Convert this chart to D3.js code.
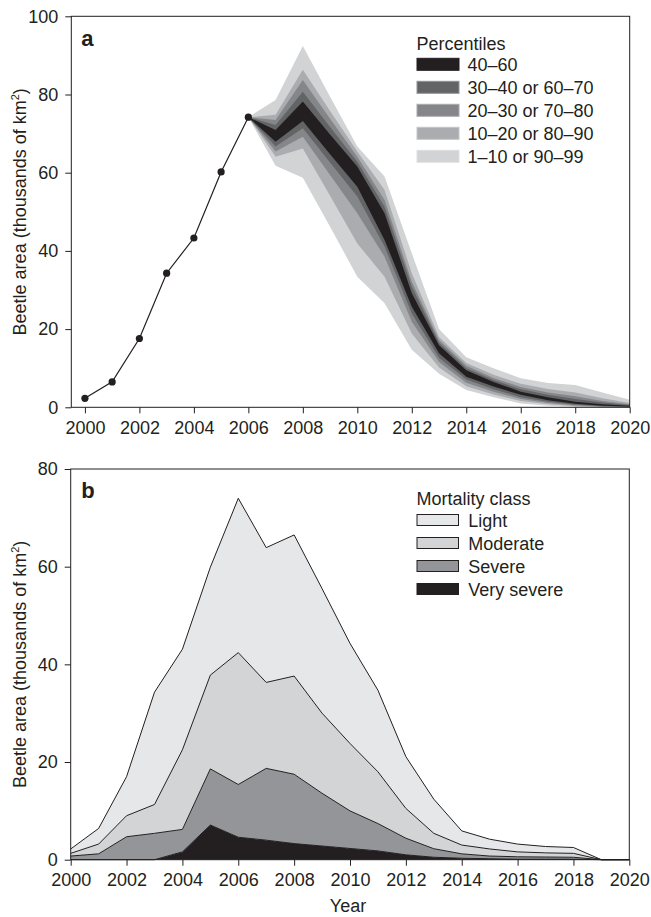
<!DOCTYPE html>
<html>
<head>
<meta charset="utf-8">
<script src="https://cdn.jsdelivr.net/npm/d3@7/dist/d3.min.js"></script>
<style>
  html, body { margin: 0; padding: 0; background: #fff; }
  svg { display: block; }
  text { font-family: "Liberation Sans", Arial, Helvetica, sans-serif; fill: #231f20; }
</style>
</head>
<body>
<svg id="chart" width="651" height="917"></svg>
<script>
// ---------- Panel a data ----------
const observedYears = [2000, 2001, 2002, 2003, 2004, 2005, 2006];
const observedArea  = [2.3, 6.5, 17.6, 34.3, 43.3, 60.2, 74.2];

const projYears = [2006, 2007, 2008, 2009, 2010, 2011, 2012, 2013, 2014, 2015, 2016, 2017, 2018, 2019, 2020];
const p99 = [74.2, 78.6, 92.4, 79.4, 66.7, 59.0, 39.4, 20.0, 12.8, 10.0, 7.4, 6.2, 5.7, 3.8, 1.9];
const p90 = [74.2, 74.8, 86.3, 75.8, 65.4, 55.6, 34.3, 18.0, 11.3, 8.3, 6.0, 4.7, 3.8, 2.3, 1.1];
const p80 = [74.2, 73.5, 83.7, 73.8, 64.1, 53.0, 32.1, 17.2, 10.6, 7.5, 5.2, 3.8, 2.8, 1.6, 0.8];
const p70 = [74.2, 72.2, 80.7, 71.7, 62.8, 51.3, 30.9, 16.5, 10.0, 7.0, 4.6, 3.2, 2.1, 1.2, 0.6];
const p60 = [74.2, 70.9, 78.2, 69.8, 61.6, 49.6, 29.2, 15.9, 9.5, 6.5, 4.0, 2.6, 1.4, 0.8, 0.4];
const p40 = [74.2, 67.9, 73.2, 64.7, 56.4, 42.8, 25.7, 13.8, 7.8, 5.3, 3.2, 1.8, 0.9, 0.4, 0.2];
const p30 = [74.2, 66.7, 71.4, 62.6, 53.9, 41.1, 24.0, 12.7, 7.1, 4.6, 2.6, 1.4, 0.65, 0.3, 0.1];
const p20 = [74.2, 65.4, 69.2, 59.4, 49.6, 38.5, 21.9, 11.6, 6.3, 4.0, 2.1, 1.1, 0.45, 0.2, 0.05];
const p10 = [74.2, 64.1, 66.2, 54.1, 41.9, 33.4, 18.9, 10.2, 5.4, 3.3, 1.6, 0.75, 0.3, 0.1, 0];
const p1  = [74.2, 61.8, 58.7, 46.2, 33.4, 26.6, 14.7, 8.6, 4.4, 2.6, 1.0, 0.4, 0.15, 0.05, 0];

const percentileLabels = ["40–60", "30–40 or 60–70", "20–30 or 70–80", "10–20 or 80–90", "1–10 or 90–99"];
const percentileColors = ["#231f20", "#636466", "#858689", "#aaacaf", "#d1d3d4"];

// ---------- Panel b data ----------
const mortalityYears = [2000, 2001, 2002, 2003, 2004, 2005, 2006, 2007, 2008, 2009, 2010,
                        2011, 2012, 2013, 2014, 2015, 2016, 2017, 2018, 2019, 2020];
const verySevere = [0, 0, 0, 0, 1.6, 7.1, 4.6, 4.0, 3.3, 2.8, 2.3, 1.8, 1.0, 0.5, 0.3, 0.2, 0.1, 0.1, 0.1, 0, 0];
const severe     = [0.75, 1.2, 4.7, 5.4, 4.6, 11.5, 10.8, 14.7, 14.2, 10.8, 7.7, 5.6, 3.4, 1.75, 0.9, 0.55, 0.5, 0.45, 0.4, 0, 0];
const moderate   = [0.55, 2.0, 4.3, 5.9, 16.3, 19.2, 27.0, 17.6, 20.1, 16.4, 13.8, 10.6, 6.1, 3.15, 1.8, 1.45, 1.0, 0.85, 0.8, 0, 0];
const light      = [0.9, 3.2, 8.0, 23.0, 20.6, 22.1, 31.6, 27.6, 28.9, 25.5, 20.5, 16.7, 10.6, 7.0, 2.9, 2.0, 1.6, 1.3, 1.2, 0, 0];

const mortalityLabels = ["Light", "Moderate", "Severe", "Very severe"];
const mortalityColors = ["#e6e7e8", "#d3d4d6", "#939598", "#231f20"];

const xTicks = [2000, 2002, 2004, 2006, 2008, 2010, 2012, 2014, 2016, 2018, 2020];
const yTicksA = [0, 20, 40, 60, 80, 100];
const yTicksB = [0, 20, 40, 60, 80];

// ---------- Drawing ----------
const svg = d3.select("#chart");
const ink = "#231f20";
const fs = 18;

function drawAxes(g, x, y, xt, yt, w, h) {
  const xa = g.append("g").attr("transform", `translate(0,${h})`)
    .call(d3.axisBottom(x).tickValues(xt).tickFormat(d3.format("d")).tickSize(6).tickPadding(8).tickSizeOuter(0));
  const ya = g.append("g")
    .call(d3.axisLeft(y).tickValues(yt).tickSize(6).tickPadding(7).tickSizeOuter(0));
  [xa, ya].forEach(a => {
    a.select(".domain").remove();
    a.selectAll(".tick line").attr("stroke", ink);
    a.selectAll("text").style("font-size", fs + "px").attr("fill", ink);
  });
  g.append("rect").attr("x", 0).attr("y", 0).attr("width", w).attr("height", h)
    .attr("fill", "none").attr("stroke", ink).attr("stroke-width", 1);
}

function yLabel(g, h, xOff) {
  const t = g.append("text")
    .attr("transform", `translate(${xOff},${h / 2}) rotate(-90)`)
    .attr("text-anchor", "middle")
    .style("font-size", fs + "px");
  t.append("tspan").text("Beetle area (thousands of km");
  t.append("tspan").text("2").style("font-size", "11px").attr("dy", "-7");
  t.append("tspan").text(")").attr("dy", "7");
}

// ---- Panel a ----
{
  const L = 71.3, T = 16.3, R = 629.7, B = 407.3;
  const w = R - L, h = B - T;
  const g = svg.append("g").attr("transform", `translate(${L},${T})`);
  const x = d3.scaleLinear().domain([1999.5, 2020]).range([0, w]);
  const y = d3.scaleLinear().domain([0, 100]).range([h, 0]);

  const bands = [[p1, p99], [p10, p90], [p20, p80], [p30, p70], [p40, p60]];
  const bandColors = [percentileColors[4], percentileColors[3], percentileColors[2], percentileColors[1], percentileColors[0]];
  const area = d3.area().x(d => x(d.yr)).y0(d => y(d.lo)).y1(d => y(d.hi));
  bands.forEach((b, i) => {
    const data = projYears.map((yr, k) => ({ yr, lo: b[0][k], hi: b[1][k] }));
    g.append("path").datum(data).attr("d", area).attr("fill", bandColors[i]);
  });

  const obs = observedYears.map((yr, k) => ({ yr, v: observedArea[k] }));
  g.append("path").datum(obs)
    .attr("d", d3.line().x(d => x(d.yr)).y(d => y(d.v)))
    .attr("fill", "none").attr("stroke", ink).attr("stroke-width", 1.2);
  g.selectAll("circle.obs").data(obs).join("circle")
    .attr("cx", d => x(d.yr)).attr("cy", d => y(d.v)).attr("r", 3.6).attr("fill", ink);

  drawAxes(g, x, y, xTicks, yTicksA, w, h);
  yLabel(g, h, -45);

  g.append("text").attr("x", 10).attr("y", 29.5).text("a")
    .style("font-size", "22px").style("font-weight", "bold");

  // legend
  const lg = svg.append("g");
  lg.append("text").attr("x", 416.5).attr("y", 50).text("Percentiles").style("font-size", fs + "px");
  percentileLabels.forEach((lab, i) => {
    const cy = 64.3 + i * 23;
    const c = percentileColors[i];
    lg.append("rect").attr("x", 417).attr("y", cy - 6).attr("width", 42).attr("height", 12)
      .attr("fill", c)
      .attr("stroke", i === 0 ? c : d3.interpolateRgb(c, "#ffffff")(0.3)).attr("stroke-width", 1);
    lg.append("text").attr("x", 467.5).attr("y", cy + 6.5).text(lab).style("font-size", fs + "px");
  });
}

// ---- Panel b ----
{
  const L = 70.7, T = 469, R = 629.3, B = 859.7;
  const w = R - L, h = B - T;
  const g = svg.append("g").attr("transform", `translate(${L},${T})`);
  const x = d3.scaleLinear().domain([2000, 2020]).range([0, w]);
  const y = d3.scaleLinear().domain([0, 80]).range([h, 0]);

  const table = mortalityYears.map((yr, k) => ({
    yr, verySevere: verySevere[k], severe: severe[k], moderate: moderate[k], light: light[k]
  }));
  const keys = ["verySevere", "severe", "moderate", "light"];
  const colors = { light: mortalityColors[0], moderate: mortalityColors[1], severe: mortalityColors[2], verySevere: mortalityColors[3] };
  const stacked = d3.stack().keys(keys)(table);

  const area = d3.area().x(d => x(d.data.yr)).y0(d => y(d[0])).y1(d => y(d[1]));
  const topLine = d3.line().x(d => x(d.data.yr)).y(d => y(d[1]));
  stacked.forEach(s => {
    g.append("path").datum(s).attr("d", area).attr("fill", colors[s.key]);
  });
  stacked.forEach(s => {
    g.append("path").datum(s).attr("d", topLine)
      .attr("fill", "none").attr("stroke", ink).attr("stroke-width", 1).attr("stroke-linejoin", "round");
  });

  drawAxes(g, x, y, xTicks, yTicksB, w, h);
  yLabel(g, h, -44.2);

  g.append("text").attr("x", 10.5).attr("y", 29).text("b")
    .style("font-size", "22px").style("font-weight", "bold");

  svg.append("text").attr("x", L + w / 2 - 2).attr("y", 912).attr("text-anchor", "middle")
    .text("Year").style("font-size", fs + "px");

  // legend
  const lg = svg.append("g");
  lg.append("text").attr("x", 416.5).attr("y", 505).text("Mortality class").style("font-size", fs + "px");
  mortalityLabels.forEach((lab, i) => {
    const cy = 520 + i * 23;
    lg.append("rect").attr("x", 417).attr("y", cy - 5.5).attr("width", 41.5).attr("height", 11)
      .attr("fill", mortalityColors[i]).attr("stroke", ink).attr("stroke-width", 1);
    lg.append("text").attr("x", 468.3).attr("y", cy + 6.5).text(lab).style("font-size", fs + "px");
  });
}
</script>
</body>
</html>
